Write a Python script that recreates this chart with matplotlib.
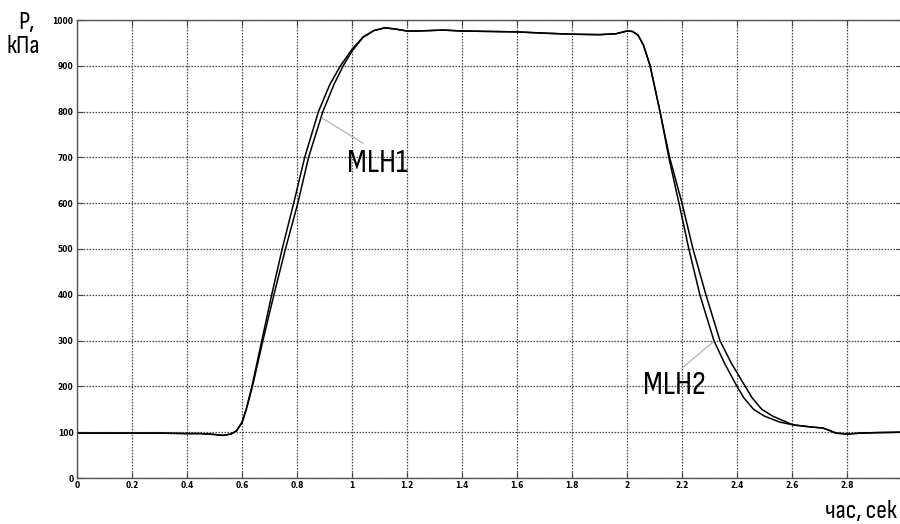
import matplotlib
matplotlib.use('Agg')
from matplotlib import pyplot as plt
from matplotlib import font_manager

# pressure curves (time in s, pressure in kPa)
t_mlh1 = [0, 0.1, 0.2, 0.3, 0.4, 0.45, 0.5, 0.53, 0.56, 0.58, 0.6, 0.616, 0.638,
          0.676, 0.716, 0.758, 0.803, 0.842, 0.894, 0.935, 0.968, 1.0, 1.04, 1.08,
          1.12, 1.16, 1.2, 1.24, 1.33, 1.4, 1.5, 1.6, 1.71, 1.8, 1.9, 1.96, 2.0,
          2.02, 2.04, 2.06, 2.084, 2.12, 2.155, 2.2, 2.24, 2.287, 2.338, 2.38,
          2.43, 2.455, 2.49, 2.53, 2.58, 2.604, 2.66, 2.713, 2.74, 2.76, 2.8,
          2.85, 2.9, 3.0]
p_mlh1 = [98, 98, 98, 98, 97, 97, 95, 93, 96, 103, 120, 150, 200,
          300, 400, 500, 600, 700, 800, 860, 900, 932, 962, 977,
          983, 980, 976, 976, 978, 976, 975, 974, 971, 969, 968, 970, 976,
          975, 967, 945, 900, 800, 700, 600, 500, 400, 300, 250,
          200, 175, 150, 135, 122, 116, 112, 109, 103, 98, 96,
          98, 99, 100]

t_mlh2 = [0, 0.1, 0.2, 0.3, 0.4, 0.45, 0.5, 0.53, 0.56, 0.58, 0.6, 0.615, 0.636,
          0.672, 0.708, 0.746, 0.788, 0.828, 0.878, 0.92, 0.958, 1.0, 1.04, 1.08,
          1.12, 1.16, 1.2, 1.24, 1.33, 1.4, 1.5, 1.6, 1.71, 1.8, 1.9, 1.96, 2.0,
          2.02, 2.04, 2.06, 2.084, 2.12, 2.152, 2.189, 2.225, 2.265, 2.316, 2.355,
          2.40, 2.425, 2.46, 2.50, 2.556, 2.604, 2.66, 2.713, 2.74, 2.76, 2.8,
          2.85, 2.9, 3.0]
p_mlh2 = [98, 98, 98, 98, 97, 97, 95, 93, 96, 103, 122, 150, 200,
          300, 400, 500, 600, 700, 800, 860, 900, 936, 963, 977,
          983, 980, 976, 976, 978, 976, 975, 974, 971, 969, 968, 970, 976,
          975, 967, 945, 900, 800, 700, 600, 500, 400, 300, 250,
          200, 175, 150, 135, 122, 116, 112, 109, 103, 98, 96,
          98, 99, 100]

x_ticks = [0, 0.2, 0.4, 0.6, 0.8, 1, 1.2, 1.4, 1.6, 1.8, 2, 2.2, 2.4, 2.6, 2.8, 3]
x_labels = ['0', '0.2', '0.4', '0.6', '0.8', '1', '1.2', '1.4', '1.6', '1.8',
            '2', '2.2', '2.4', '2.6', '2.8', '3']
y_ticks = [0, 100, 200, 300, 400, 500, 600, 700, 800, 900, 1000]

names = {f.name for f in font_manager.fontManager.ttflist}
label_font = next((n for n in ['Sofia Sans Condensed', 'Sofia Sans Extra Condensed',
                               'Roboto Condensed'] if n in names), 'DejaVu Sans')
tick_font = font_manager.FontProperties(family='DejaVu Sans', stretch='condensed',
                                        weight='bold', size=6)

fig = plt.figure(figsize=(9, 5.24), dpi=100)
ax = fig.add_axes([77 / 900, 46 / 524, 825 / 900, 458 / 524])

ax.plot(t_mlh1, p_mlh1, color='black', lw=1.1)
ax.plot(t_mlh2, p_mlh2, color='black', lw=1.1)

ax.set_xlim(0, 3)
ax.set_ylim(0, 1000)
ax.set_xticks(x_ticks)
ax.set_xticklabels(x_labels)
ax.set_yticks(y_ticks)
ax.tick_params(direction='in', length=4.5, width=0.8, color='#444444',
               top=True, right=True, pad=2.5)
for lab in ax.get_xticklabels() + ax.get_yticklabels():
    lab.set_fontproperties(tick_font)
ax.grid(True, linestyle=(0, (1.3, 1.1)), color='#4a4a4a', linewidth=0.9)
for sp in ax.spines.values():
    sp.set_color('#555555')
    sp.set_linewidth(1.0)

# leaders and curve names
ax.plot([0.891, 1.04], [786, 731], color='#aaaaaa', lw=0.8)
ax.text(0.982, 718, 'MLH1', family=label_font, fontsize=24, va='top', ha='left')
ax.plot([2.313, 2.2], [297, 240], color='#aaaaaa', lw=0.8)
ax.text(2.058, 233, 'MLH2', family=label_font, fontsize=24, va='top', ha='left')

fig.text(18 / 900, 1 - 11 / 524, 'P,', family=label_font, fontsize=19, va='top')
fig.text(6 / 900, 1 - 35 / 524, 'кПа', family=label_font, fontsize=19, va='top')
fig.text(897 / 900, 1 - 523 / 524, 'час, сек', family=label_font, fontsize=19,
         ha='right', va='bottom')

fig.savefig('out.png', dpi=100)
